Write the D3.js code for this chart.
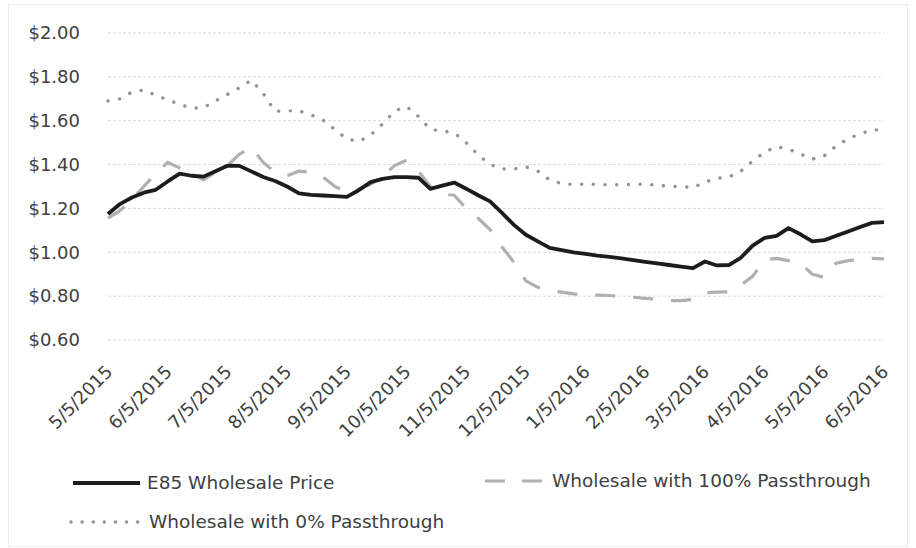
<!DOCTYPE html>
<html>
<head>
<meta charset="utf-8">
<script src="https://cdn.jsdelivr.net/npm/d3@7"></script>
<style>
  body { margin: 0; background: #fff; }
  text { font-family: "DejaVu Sans", sans-serif; fill: #404040; }
</style>
</head>
<body>
<div id="graph"></div>
<script>
// tick labels on the x axis (one every 5 data points)
const months = ["5/5/2015", "6/5/2015", "7/5/2015", "8/5/2015", "9/5/2015", "10/5/2015", "11/5/2015",
  "12/5/2015", "1/5/2016", "2/5/2016", "3/5/2016", "4/5/2016", "5/5/2016", "6/5/2016"];

// series values
const e85 = [1.175, 1.22, 1.25, 1.272, 1.285, 1.323, 1.359, 1.349, 1.345, 1.37,
  1.395, 1.394, 1.369, 1.343, 1.325, 1.30, 1.269, 1.262, 1.259, 1.256,
  1.253, 1.283, 1.32, 1.335, 1.343, 1.343, 1.34, 1.289, 1.304, 1.318,
  1.29, 1.26, 1.232, 1.18, 1.125, 1.08, 1.05, 1.02, 1.01, 1.00,
  0.993, 0.985, 0.979, 0.972, 0.964, 0.956, 0.949, 0.942, 0.935, 0.928,
  0.958, 0.94, 0.942, 0.975, 1.03, 1.066, 1.075, 1.11, 1.082, 1.05,
  1.055, 1.075, 1.095, 1.115, 1.134, 1.138];

const pass100 = [1.156, 1.19, 1.24, 1.30, 1.36, 1.41, 1.385, 1.36, 1.33, 1.365,
  1.395, 1.447, 1.48, 1.41, 1.365, 1.35, 1.37, 1.365, 1.343, 1.30,
  1.275, 1.29, 1.31, 1.345, 1.395, 1.42, 1.37, 1.30, 1.265, 1.26,
  1.20, 1.155, 1.104, 1.025, 0.955, 0.87, 0.84, 0.826, 0.818, 0.81,
  0.805, 0.805, 0.803, 0.798, 0.795, 0.79, 0.786, 0.78, 0.78, 0.785,
  0.815, 0.818, 0.82, 0.85, 0.89, 0.966, 0.972, 0.962, 0.95, 0.90,
  0.885, 0.95, 0.962, 0.967, 0.972, 0.97];

const pass0 = [1.69, 1.70, 1.73, 1.74, 1.716, 1.695, 1.675, 1.657, 1.66, 1.69,
  1.72, 1.75, 1.785, 1.725, 1.643, 1.645, 1.645, 1.627, 1.603, 1.56,
  1.517, 1.505, 1.535, 1.585, 1.644, 1.665, 1.62, 1.56, 1.553, 1.545,
  1.50, 1.445, 1.40, 1.38, 1.38, 1.39, 1.37, 1.33, 1.313, 1.31,
  1.31, 1.31, 1.308, 1.308, 1.31, 1.31, 1.307, 1.30, 1.30, 1.295,
  1.32, 1.337, 1.343, 1.37, 1.416, 1.457, 1.482, 1.47, 1.448, 1.425,
  1.44, 1.485, 1.518, 1.54, 1.558, 1.558];

const yTicks = [0.6, 0.8, 1.0, 1.2, 1.4, 1.6, 1.8, 2.0];

// set the dimensions and margins of the graph
const W = 916, H = 548;
const margin = {top: 33, right: 32, bottom: 208, left: 108},
    width = W - margin.left - margin.right,
    height = H - margin.top - margin.bottom;

const root = d3.select("#graph")
  .append("svg")
    .attr("width", W)
    .attr("height", H);

// faint outer frame
root.append("rect")
  .attr("x", 8.5).attr("y", 4.5)
  .attr("width", W - 17).attr("height", H - 6)
  .attr("fill", "none")
  .attr("stroke", "#ececec");

const svg = root.append("g")
  .attr("transform", `translate(${margin.left},${margin.top})`);

const step = 5;
const x = d3.scaleLinear()
  .domain([0, e85.length - 1])
  .range([0, width]);

const y = d3.scaleLinear()
  .domain([0.6, 2.0])
  .range([height, 0]);

// gridlines
svg.append("g")
  .selectAll("line")
  .data(yTicks)
  .join("line")
    .attr("x1", 0)
    .attr("x2", width)
    .attr("y1", d => y(d))
    .attr("y2", d => y(d))
    .attr("stroke", "#dadada")
    .attr("stroke-dasharray", "3,2");

// Y axis labels
const yAxis = svg.append("g")
  .attr("transform", "translate(-25,0)")
  .call(d3.axisLeft(y).tickValues(yTicks).tickFormat(d => "$" + d.toFixed(2)).tickSize(0));
yAxis.select(".domain").remove();
yAxis.selectAll("text")
  .attr("font-size", 18)
  .attr("font-family", "DejaVu Sans")
  .attr("fill", "#404040");

// X axis labels, rotated
const xAxis = svg.append("g")
  .attr("transform", `translate(0,${height})`)
  .call(d3.axisBottom(x)
    .tickValues(months.map((m, i) => i * step))
    .tickFormat((d, i) => months[i])
    .tickSize(0));
xAxis.select(".domain").remove();
xAxis.selectAll("text")
  .attr("font-size", 18)
  .attr("font-family", "DejaVu Sans")
  .attr("fill", "#404040")
  .attr("text-anchor", "end")
  .attr("dy", 0)
  .attr("y", 0)
  .attr("transform", "translate(5,33) rotate(-45)");

const line = d3.line()
  .x((d, i) => x(i))
  .y(d => y(d));

// 0% passthrough (dotted)
svg.append("path")
  .datum(pass0)
  .attr("d", line)
  .attr("fill", "none")
  .attr("stroke", "#939393")
  .attr("stroke-width", 3.4)
  .attr("stroke-linecap", "round")
  .attr("stroke-dasharray", "0.1,11.6");

// 100% passthrough (dashed)
svg.append("path")
  .datum(pass100)
  .attr("d", line)
  .attr("fill", "none")
  .attr("stroke", "#b0b0b0")
  .attr("stroke-width", 3.2)
  .attr("stroke-dasharray", "20,18");

// E85 wholesale (solid)
svg.append("path")
  .datum(e85)
  .attr("d", line)
  .attr("fill", "none")
  .attr("stroke", "#1c1c1c")
  .attr("stroke-width", 3.8)
  .attr("stroke-linejoin", "round");

// legend
const legend = root.append("g");
const legendItems = [
  {name: "E85 Wholesale Price", x0: 73, x1: 140, tx: 147, y: 483, stroke: "#1c1c1c", w: 3.8, dash: null, cap: "butt"},
  {name: "Wholesale with 100% Passthrough", x0: 485, x1: 542, tx: 552, y: 481, stroke: "#b0b0b0", w: 3.2, dash: "20,17", cap: "butt"},
  {name: "Wholesale with 0% Passthrough", x0: 71, x1: 146, tx: 149, y: 522, stroke: "#939393", w: 3.4, dash: "0.1,11", cap: "round"}
];
legendItems.forEach(function(d) {
  legend.append("line")
    .attr("x1", d.x0).attr("x2", d.x1)
    .attr("y1", d.y).attr("y2", d.y)
    .attr("stroke", d.stroke)
    .attr("stroke-width", d.w)
    .attr("stroke-linecap", d.cap)
    .attr("stroke-dasharray", d.dash);
  legend.append("text")
    .attr("x", d.tx)
    .attr("y", d.y)
    .attr("dy", "0.35em")
    .attr("font-size", 18.5)
    .text(d.name);
});
</script>
</body>
</html>
